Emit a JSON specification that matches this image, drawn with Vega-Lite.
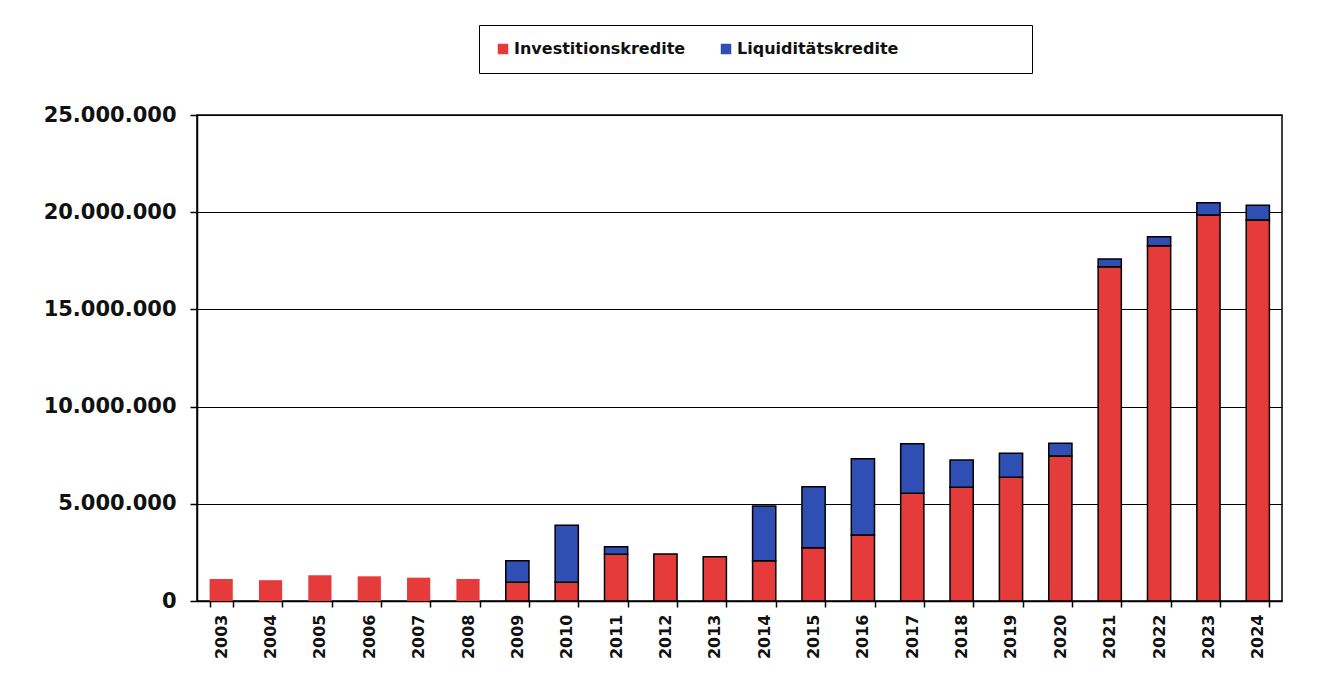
{
  "$schema": "https://vega.github.io/schema/vega-lite/v6.json",
  "width": 1085,
  "height": 486,
  "autosize": {"type": "none"},
  "padding": {"left": 197, "top": 115, "right": 36, "bottom": 96},
  "background": "white",
  "config": {
    "locale": {"number": {"decimal": ",", "thousands": ".", "grouping": [3], "currency": ["", " €"]}},
    "view": {"stroke": "black", "strokeWidth": 1.5},
    "axis": {"labelFont": "DejaVu Sans", "labelFontWeight": "bold", "labelColor": "#111", "domainColor": "black", "tickColor": "black", "domainWidth": 1.5, "tickWidth": 1.5}
  },
  "data": {"values": [
    {"year": "2003", "series": "Investitionskredite", "value": 1130000},
    {"year": "2004", "series": "Investitionskredite", "value": 1070000},
    {"year": "2005", "series": "Investitionskredite", "value": 1320000},
    {"year": "2006", "series": "Investitionskredite", "value": 1270000},
    {"year": "2007", "series": "Investitionskredite", "value": 1200000},
    {"year": "2008", "series": "Investitionskredite", "value": 1130000},
    {"year": "2009", "series": "Investitionskredite", "value": 960000},
    {"year": "2009", "series": "Liquiditätskredite", "value": 1110000},
    {"year": "2010", "series": "Investitionskredite", "value": 960000},
    {"year": "2010", "series": "Liquiditätskredite", "value": 2940000},
    {"year": "2011", "series": "Investitionskredite", "value": 2400000},
    {"year": "2011", "series": "Liquiditätskredite", "value": 390000},
    {"year": "2012", "series": "Investitionskredite", "value": 2420000},
    {"year": "2013", "series": "Investitionskredite", "value": 2280000},
    {"year": "2014", "series": "Investitionskredite", "value": 2070000},
    {"year": "2014", "series": "Liquiditätskredite", "value": 2820000},
    {"year": "2015", "series": "Investitionskredite", "value": 2740000},
    {"year": "2015", "series": "Liquiditätskredite", "value": 3140000},
    {"year": "2016", "series": "Investitionskredite", "value": 3400000},
    {"year": "2016", "series": "Liquiditätskredite", "value": 3920000},
    {"year": "2017", "series": "Investitionskredite", "value": 5540000},
    {"year": "2017", "series": "Liquiditätskredite", "value": 2550000},
    {"year": "2018", "series": "Investitionskredite", "value": 5850000},
    {"year": "2018", "series": "Liquiditätskredite", "value": 1400000},
    {"year": "2019", "series": "Investitionskredite", "value": 6360000},
    {"year": "2019", "series": "Liquiditätskredite", "value": 1240000},
    {"year": "2020", "series": "Investitionskredite", "value": 7460000},
    {"year": "2020", "series": "Liquiditätskredite", "value": 650000},
    {"year": "2021", "series": "Investitionskredite", "value": 17200000},
    {"year": "2021", "series": "Liquiditätskredite", "value": 390000},
    {"year": "2022", "series": "Investitionskredite", "value": 18280000},
    {"year": "2022", "series": "Liquiditätskredite", "value": 460000},
    {"year": "2023", "series": "Investitionskredite", "value": 19860000},
    {"year": "2023", "series": "Liquiditätskredite", "value": 630000},
    {"year": "2024", "series": "Investitionskredite", "value": 19600000},
    {"year": "2024", "series": "Liquiditätskredite", "value": 760000}
  ]},
  "mark": {"type": "bar", "stroke": "black"},
  "encoding": {
    "x": {
      "field": "year", "type": "ordinal",
      "scale": {"paddingInner": 0.53, "paddingOuter": 0.255},
      "axis": {"title": null, "labelAngle": -90, "labelAlign": "right", "labelBaseline": "middle", "labelFontSize": 16, "tickBand": "extent", "tickSize": 6, "labelPadding": 7}
    },
    "y": {
      "field": "value", "type": "quantitative", "stack": "zero",
      "scale": {"domain": [0, 25000000], "nice": false},
      "axis": {"title": null, "values": [0, 5000000, 10000000, 15000000, 20000000, 25000000], "format": ",d", "labelFontSize": 21, "tickSize": 7, "labelPadding": 14, "grid": true, "gridColor": "black", "gridWidth": 1.2, "gridOpacity": 1}
    },
    "color": {
      "field": "series", "type": "nominal",
      "scale": {"domain": ["Investitionskredite", "Liquiditätskredite"], "range": ["#e63b3b", "#2f4fb5"]},
      "legend": {
        "orient": "none", "legendX": 282, "legendY": -90, "direction": "horizontal",
        "title": " ", "titleOrient": "right", "titlePadding": 118,
        "labelFont": "DejaVu Sans", "labelFontWeight": "bold", "labelFontSize": 16, "labelColor": "#111", "labelLimit": 400,
        "symbolType": "square", "symbolSize": 110, "symbolStrokeWidth": 0, "symbolOpacity": 1,
        "strokeColor": "black", "fillColor": "white", "padding": 16, "columnPadding": 32, "labelOffset": 3
      }
    },
    "order": {"field": "series", "sort": "ascending"},
    "strokeWidth": {"condition": {"test": "toNumber(datum.year) < 2009", "value": 0}, "value": 1.5}
  }
}
